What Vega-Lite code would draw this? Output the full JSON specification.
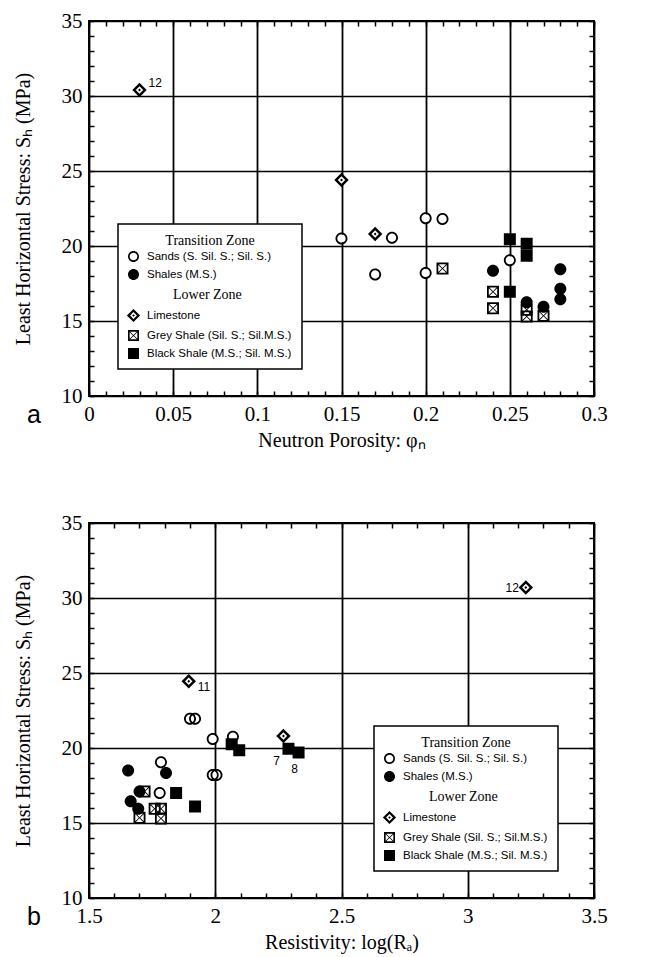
{
  "$schema": "https://vega.github.io/schema/vega-lite/v6.json",
  "padding": {"left": 12, "top": 9, "right": 10, "bottom": 5},
  "background": "white",
  "spacing": 60,
  "config": {"view": {"stroke": "black", "strokeWidth": 2}, "font": "Liberation Serif"},
  "datasets": {
    "porosity": [
      {"phi": 0.03, "Sh": 30.4, "type": "Limestone", "label": "12"},
      {"phi": 0.15, "Sh": 24.4, "type": "Limestone", "label": ""},
      {"phi": 0.17, "Sh": 20.8, "type": "Limestone", "label": ""},
      {"phi": 0.15, "Sh": 20.5, "type": "Sands (S. Sil. S.; Sil. S.)", "label": ""},
      {"phi": 0.17, "Sh": 18.1, "type": "Sands (S. Sil. S.; Sil. S.)", "label": ""},
      {"phi": 0.18, "Sh": 20.55, "type": "Sands (S. Sil. S.; Sil. S.)", "label": ""},
      {"phi": 0.2, "Sh": 21.85, "type": "Sands (S. Sil. S.; Sil. S.)", "label": ""},
      {"phi": 0.2, "Sh": 18.2, "type": "Sands (S. Sil. S.; Sil. S.)", "label": ""},
      {"phi": 0.21, "Sh": 21.8, "type": "Sands (S. Sil. S.; Sil. S.)", "label": ""},
      {"phi": 0.25, "Sh": 19.05, "type": "Sands (S. Sil. S.; Sil. S.)", "label": ""},
      {"phi": 0.24, "Sh": 18.35, "type": "Shales (M.S.)", "label": ""},
      {"phi": 0.26, "Sh": 16.25, "type": "Shales (M.S.)", "label": ""},
      {"phi": 0.27, "Sh": 15.95, "type": "Shales (M.S.)", "label": ""},
      {"phi": 0.28, "Sh": 18.45, "type": "Shales (M.S.)", "label": ""},
      {"phi": 0.28, "Sh": 17.15, "type": "Shales (M.S.)", "label": ""},
      {"phi": 0.28, "Sh": 16.45, "type": "Shales (M.S.)", "label": ""},
      {"phi": 0.21, "Sh": 18.5, "type": "Grey Shale (Sil. S.; Sil.M.S.)", "label": ""},
      {"phi": 0.24, "Sh": 16.95, "type": "Grey Shale (Sil. S.; Sil.M.S.)", "label": ""},
      {"phi": 0.24, "Sh": 15.85, "type": "Grey Shale (Sil. S.; Sil.M.S.)", "label": ""},
      {"phi": 0.26, "Sh": 15.75, "type": "Grey Shale (Sil. S.; Sil.M.S.)", "label": ""},
      {"phi": 0.26, "Sh": 15.3, "type": "Grey Shale (Sil. S.; Sil.M.S.)", "label": ""},
      {"phi": 0.27, "Sh": 15.35, "type": "Grey Shale (Sil. S.; Sil.M.S.)", "label": ""},
      {"phi": 0.25, "Sh": 20.45, "type": "Black Shale (M.S.; Sil. M.S.)", "label": ""},
      {"phi": 0.26, "Sh": 20.15, "type": "Black Shale (M.S.; Sil. M.S.)", "label": ""},
      {"phi": 0.26, "Sh": 19.35, "type": "Black Shale (M.S.; Sil. M.S.)", "label": ""},
      {"phi": 0.25, "Sh": 16.95, "type": "Black Shale (M.S.; Sil. M.S.)", "label": ""}
    ],
    "resistivity": [
      {"logR": 1.895, "Sh": 24.45, "type": "Limestone", "label": "11"},
      {"logR": 2.27, "Sh": 20.8, "type": "Limestone", "label": ""},
      {"logR": 3.23, "Sh": 30.7, "type": "Limestone", "label": "12"},
      {"logR": 1.785, "Sh": 19.05, "type": "Sands (S. Sil. S.; Sil. S.)", "label": ""},
      {"logR": 1.9, "Sh": 21.95, "type": "Sands (S. Sil. S.; Sil. S.)", "label": ""},
      {"logR": 1.92, "Sh": 21.95, "type": "Sands (S. Sil. S.; Sil. S.)", "label": ""},
      {"logR": 1.99, "Sh": 20.6, "type": "Sands (S. Sil. S.; Sil. S.)", "label": ""},
      {"logR": 2.07, "Sh": 20.75, "type": "Sands (S. Sil. S.; Sil. S.)", "label": ""},
      {"logR": 1.99, "Sh": 18.2, "type": "Sands (S. Sil. S.; Sil. S.)", "label": ""},
      {"logR": 2.005, "Sh": 18.2, "type": "Sands (S. Sil. S.; Sil. S.)", "label": ""},
      {"logR": 1.78, "Sh": 17.0, "type": "Sands (S. Sil. S.; Sil. S.)", "label": ""},
      {"logR": 1.655, "Sh": 18.5, "type": "Shales (M.S.)", "label": ""},
      {"logR": 1.805, "Sh": 18.33, "type": "Shales (M.S.)", "label": ""},
      {"logR": 1.7, "Sh": 17.1, "type": "Shales (M.S.)", "label": ""},
      {"logR": 1.665, "Sh": 16.45, "type": "Shales (M.S.)", "label": ""},
      {"logR": 1.695, "Sh": 15.95, "type": "Shales (M.S.)", "label": ""},
      {"logR": 1.72, "Sh": 17.1, "type": "Grey Shale (Sil. S.; Sil.M.S.)", "label": ""},
      {"logR": 1.76, "Sh": 15.95, "type": "Grey Shale (Sil. S.; Sil.M.S.)", "label": ""},
      {"logR": 1.785, "Sh": 15.95, "type": "Grey Shale (Sil. S.; Sil.M.S.)", "label": ""},
      {"logR": 1.7, "Sh": 15.35, "type": "Grey Shale (Sil. S.; Sil.M.S.)", "label": ""},
      {"logR": 1.785, "Sh": 15.3, "type": "Grey Shale (Sil. S.; Sil.M.S.)", "label": ""},
      {"logR": 2.065, "Sh": 20.25, "type": "Black Shale (M.S.; Sil. M.S.)", "label": ""},
      {"logR": 2.095, "Sh": 19.85, "type": "Black Shale (M.S.; Sil. M.S.)", "label": ""},
      {"logR": 2.29, "Sh": 19.95, "type": "Black Shale (M.S.; Sil. M.S.)", "label": "7"},
      {"logR": 2.33, "Sh": 19.7, "type": "Black Shale (M.S.; Sil. M.S.)", "label": "8"},
      {"logR": 1.845, "Sh": 17.0, "type": "Black Shale (M.S.; Sil. M.S.)", "label": ""},
      {"logR": 1.92, "Sh": 16.1, "type": "Black Shale (M.S.; Sil. M.S.)", "label": ""}
    ]
  },
  "resolve": {"scale": {"x": "independent", "y": "independent", "shape": "independent"}, "legend": {"shape": "independent"}},
  "vconcat": [
    {
      "width": 505, "height": 375,
      "data": {"name": "porosity"},
      "title": {"text": "a", "orient": "bottom", "anchor": "start", "frame": "group", "dx": -62, "offset": -47, "font": "Liberation Sans", "fontSize": 25, "fontWeight": "normal", "color": "black"},
      "resolve": {"axis": {"x": "independent", "y": "independent"}},
      "layer": [
        {
          "mark": {"type": "point", "opacity": 0},
          "encoding": {
            "x": {"field": "phi", "type": "quantitative", "scale": {"domain": [0, 0.3], "nice": false, "zero": false},
              "axis": {"orient": "bottom", "values": [0,0.01,0.02,0.03,0.04,0.05,0.06,0.07,0.08,0.09,0.1,0.11,0.12,0.13,0.14,0.15,0.16,0.17,0.18,0.19,0.2,0.21,0.22,0.23,0.24,0.25,0.26,0.27,0.28,0.29,0.3],
                "format": "~g", "labelExpr": "round(datum.value*100) % 5 === 0 ? datum.label : ''", "labelOverlap": false, "labelFlush": false,
                "grid": true, "gridColor": "black", "gridWidth": 1.8, "gridOpacity": {"condition": {"test": "round(datum.value*100) % 5 === 0", "value": 1}, "value": 0},
                "domain": false, "tickSize": -5, "tickColor": "black", "tickWidth": 1.5,
                "labelFont": "Liberation Serif", "labelFontSize": 21, "labelColor": "black", "labelPadding": 12,
                "title": "Neutron Porosity: φₙ", "titleFont": "Liberation Serif", "titleFontSize": 20, "titleFontWeight": "normal", "titleColor": "black", "titlePadding": 6}},
            "y": {"field": "Sh", "type": "quantitative", "scale": {"domain": [10, 35], "nice": false, "zero": false},
              "axis": {"orient": "left", "values": [10,11,12,13,14,15,16,17,18,19,20,21,22,23,24,25,26,27,28,29,30,31,32,33,34,35],
                "labelExpr": "datum.value % 5 === 0 ? datum.label : ''", "labelOverlap": false, "labelFlush": false,
                "grid": true, "gridColor": "black", "gridWidth": 1.6, "gridOpacity": {"condition": {"test": "datum.value % 5 === 0", "value": 1}, "value": 0},
                "domain": false, "tickSize": -5, "tickColor": "black", "tickWidth": 1.5,
                "labelFont": "Liberation Serif", "labelFontSize": 21, "labelColor": "black", "labelPadding": 12,
                "title": "Least Horizontal Stress: Sₕ (MPa)", "titleFont": "Liberation Serif", "titleFontSize": 20, "titleFontWeight": "normal", "titleColor": "black", "titlePadding": 28}}
          }
        },
        {
          "mark": {"type": "point", "opacity": 0},
          "encoding": {
            "x": {"field": "phi", "type": "quantitative", "scale": {"domain": [0, 0.3], "nice": false, "zero": false},
              "axis": {"orient": "top", "values": [0,0.01,0.02,0.03,0.04,0.05,0.06,0.07,0.08,0.09,0.1,0.11,0.12,0.13,0.14,0.15,0.16,0.17,0.18,0.19,0.2,0.21,0.22,0.23,0.24,0.25,0.26,0.27,0.28,0.29,0.3],
                "labels": false, "grid": false, "domain": false, "tickSize": -5, "tickColor": "black", "tickWidth": 1.5, "title": null}},
            "y": {"field": "Sh", "type": "quantitative", "scale": {"domain": [10, 35], "nice": false, "zero": false},
              "axis": {"orient": "right", "values": [10,11,12,13,14,15,16,17,18,19,20,21,22,23,24,25,26,27,28,29,30,31,32,33,34,35],
                "labels": false, "grid": false, "domain": false, "tickSize": -5, "tickColor": "black", "tickWidth": 1.5, "title": null}}
          }
        },
        {
          "transform": [{"filter": "datum.type === 'Limestone' || datum.type === 'Sands (S. Sil. S.; Sil. S.)'"}],
          "mark": {"type": "point", "shape": "circle", "filled": true, "color": "white", "opacity": 1, "size": 65, "strokeWidth": 0},
          "encoding": {
            "x": {"field": "phi", "type": "quantitative", "axis": null},
            "y": {"field": "Sh", "type": "quantitative", "axis": null}
          }
        },
        {
          "mark": {"type": "point", "filled": true, "color": "black", "opacity": 1, "size": 144, "strokeWidth": 0},
          "encoding": {
            "x": {"field": "phi", "type": "quantitative", "axis": null},
            "y": {"field": "Sh", "type": "quantitative", "axis": null},
            "shape": {"field": "type", "type": "nominal",
              "scale": {"domain": ["Sands (S. Sil. S.; Sil. S.)", "Shales (M.S.)", "Lower Zone", "Limestone", "Grey Shale (Sil. S.; Sil.M.S.)", "Black Shale (M.S.; Sil. M.S.)"],
                "range": [
                  "M1,0A1,1,0,1,1,-1,0A1,1,0,1,1,1,0Z M0.7,0A0.7,0.7,0,1,0,-0.7,0A0.7,0.7,0,1,0,0.7,0Z",
                  "M1,0A1,1,0,1,1,-1,0A1,1,0,1,1,1,0Z",
                  "M0,0L0,0Z",
                  "M0,-1.2L1.2,0L0,1.2L-1.2,0Z M0,-0.62L-0.62,0L0,0.62L0.62,0Z M0,-0.24L0.24,0L0,0.24L-0.24,0Z",
                  "M-1,-1H1V1H-1Z M-0.6,-0.7L0,-0.1L0.6,-0.7Z M0.7,-0.6L0.1,0L0.7,0.6Z M0.6,0.7L0,0.1L-0.6,0.7Z M-0.7,0.6L-0.1,0L-0.7,-0.6Z",
                  "M-1,-1H1V1H-1Z"
                ]},
              "legend": {"title": "Transition Zone", "orient": "none", "legendX": 29, "legendY": 203, "padding": 10,
                "fillColor": "white", "strokeColor": "black",
                "titleAnchor": "middle", "titleFont": "Liberation Serif", "titleFontSize": 14, "titleFontWeight": "normal", "titleColor": "black", "titlePadding": 3,
                "labelFont": "Liberation Sans", "labelFontSize": 11.5, "labelColor": "black", "labelOffset": 8, "labelLimit": 300,
                "symbolSize": 121, "symbolFillColor": "black", "symbolStrokeWidth": 0, "symbolOpacity": 1, "rowPadding": 6,
                "encoding": {
                  "labels": {
                    "dx": {"condition": {"test": "datum.value === 'Lower Zone'", "value": 26}, "value": 0},
                    "dy": {"condition": {"test": "datum.value === 'Lower Zone'", "value": 3}, "value": 0},
                    "font": {"condition": {"test": "datum.value === 'Lower Zone'", "value": "Liberation Serif"}, "value": "Liberation Sans"},
                    "fontSize": {"condition": {"test": "datum.value === 'Lower Zone'", "value": 14}, "value": 11.5}
                  },
                  "legend": {"strokeWidth": {"value": 1.5}}
                }}
            }
          }
        },
        {
          "transform": [{"filter": "datum.label === '12'"}],
          "mark": {"type": "text", "align": "left", "dx": 9, "dy": -7, "font": "Liberation Sans", "fontSize": 12, "color": "black"},
          "encoding": {
            "x": {"field": "phi", "type": "quantitative", "axis": null},
            "y": {"field": "Sh", "type": "quantitative", "axis": null},
            "text": {"field": "label"}
          }
        }
      ]
    },
    {
      "width": 505, "height": 375,
      "data": {"name": "resistivity"},
      "title": {"text": "b", "orient": "bottom", "anchor": "start", "frame": "group", "dx": -62, "offset": -47, "font": "Liberation Sans", "fontSize": 25, "fontWeight": "normal", "color": "black"},
      "resolve": {"axis": {"x": "independent", "y": "independent"}},
      "layer": [
        {
          "mark": {"type": "point", "opacity": 0},
          "encoding": {
            "x": {"field": "logR", "type": "quantitative", "scale": {"domain": [1.5, 3.5], "nice": false, "zero": false},
              "axis": {"orient": "bottom", "values": [1.5,1.6,1.7,1.8,1.9,2,2.1,2.2,2.3,2.4,2.5,2.6,2.7,2.8,2.9,3,3.1,3.2,3.3,3.4,3.5],
                "format": "~g", "labelExpr": "round(datum.value*10) % 5 === 0 ? datum.label : ''", "labelOverlap": false, "labelFlush": false,
                "grid": true, "gridColor": "black", "gridWidth": 1.8, "gridOpacity": {"condition": {"test": "round(datum.value*10) % 5 === 0", "value": 1}, "value": 0},
                "domain": false, "tickSize": -5, "tickColor": "black", "tickWidth": 1.5,
                "labelFont": "Liberation Serif", "labelFontSize": 21, "labelColor": "black", "labelPadding": 12,
                "title": "Resistivity: log(Rₐ)", "titleFont": "Liberation Serif", "titleFontSize": 20, "titleFontWeight": "normal", "titleColor": "black", "titlePadding": 6}},
            "y": {"field": "Sh", "type": "quantitative", "scale": {"domain": [10, 35], "nice": false, "zero": false},
              "axis": {"orient": "left", "values": [10,11,12,13,14,15,16,17,18,19,20,21,22,23,24,25,26,27,28,29,30,31,32,33,34,35],
                "labelExpr": "datum.value % 5 === 0 ? datum.label : ''", "labelOverlap": false, "labelFlush": false,
                "grid": true, "gridColor": "black", "gridWidth": 1.6, "gridOpacity": {"condition": {"test": "datum.value % 5 === 0", "value": 1}, "value": 0},
                "domain": false, "tickSize": -5, "tickColor": "black", "tickWidth": 1.5,
                "labelFont": "Liberation Serif", "labelFontSize": 21, "labelColor": "black", "labelPadding": 12,
                "title": "Least Horizontal Stress: Sₕ (MPa)", "titleFont": "Liberation Serif", "titleFontSize": 20, "titleFontWeight": "normal", "titleColor": "black", "titlePadding": 28}}
          }
        },
        {
          "mark": {"type": "point", "opacity": 0},
          "encoding": {
            "x": {"field": "logR", "type": "quantitative", "scale": {"domain": [1.5, 3.5], "nice": false, "zero": false},
              "axis": {"orient": "top", "values": [1.5,1.6,1.7,1.8,1.9,2,2.1,2.2,2.3,2.4,2.5,2.6,2.7,2.8,2.9,3,3.1,3.2,3.3,3.4,3.5],
                "labels": false, "grid": false, "domain": false, "tickSize": -5, "tickColor": "black", "tickWidth": 1.5, "title": null}},
            "y": {"field": "Sh", "type": "quantitative", "scale": {"domain": [10, 35], "nice": false, "zero": false},
              "axis": {"orient": "right", "values": [10,11,12,13,14,15,16,17,18,19,20,21,22,23,24,25,26,27,28,29,30,31,32,33,34,35],
                "labels": false, "grid": false, "domain": false, "tickSize": -5, "tickColor": "black", "tickWidth": 1.5, "title": null}}
          }
        },
        {
          "transform": [{"filter": "datum.type === 'Limestone' || datum.type === 'Sands (S. Sil. S.; Sil. S.)'"}],
          "mark": {"type": "point", "shape": "circle", "filled": true, "color": "white", "opacity": 1, "size": 65, "strokeWidth": 0},
          "encoding": {
            "x": {"field": "logR", "type": "quantitative", "axis": null},
            "y": {"field": "Sh", "type": "quantitative", "axis": null}
          }
        },
        {
          "mark": {"type": "point", "filled": true, "color": "black", "opacity": 1, "size": 144, "strokeWidth": 0},
          "encoding": {
            "x": {"field": "logR", "type": "quantitative", "axis": null},
            "y": {"field": "Sh", "type": "quantitative", "axis": null},
            "shape": {"field": "type", "type": "nominal",
              "scale": {"domain": ["Sands (S. Sil. S.; Sil. S.)", "Shales (M.S.)", "Lower Zone", "Limestone", "Grey Shale (Sil. S.; Sil.M.S.)", "Black Shale (M.S.; Sil. M.S.)"],
                "range": [
                  "M1,0A1,1,0,1,1,-1,0A1,1,0,1,1,1,0Z M0.7,0A0.7,0.7,0,1,0,-0.7,0A0.7,0.7,0,1,0,0.7,0Z",
                  "M1,0A1,1,0,1,1,-1,0A1,1,0,1,1,1,0Z",
                  "M0,0L0,0Z",
                  "M0,-1.2L1.2,0L0,1.2L-1.2,0Z M0,-0.62L-0.62,0L0,0.62L0.62,0Z M0,-0.24L0.24,0L0,0.24L-0.24,0Z",
                  "M-1,-1H1V1H-1Z M-0.6,-0.7L0,-0.1L0.6,-0.7Z M0.7,-0.6L0.1,0L0.7,0.6Z M0.6,0.7L0,0.1L-0.6,0.7Z M-0.7,0.6L-0.1,0L-0.7,-0.6Z",
                  "M-1,-1H1V1H-1Z"
                ]},
              "legend": {"title": "Transition Zone", "orient": "none", "legendX": 285, "legendY": 203, "padding": 10,
                "fillColor": "white", "strokeColor": "black",
                "titleAnchor": "middle", "titleFont": "Liberation Serif", "titleFontSize": 14, "titleFontWeight": "normal", "titleColor": "black", "titlePadding": 3,
                "labelFont": "Liberation Sans", "labelFontSize": 11.5, "labelColor": "black", "labelOffset": 8, "labelLimit": 300,
                "symbolSize": 121, "symbolFillColor": "black", "symbolStrokeWidth": 0, "symbolOpacity": 1, "rowPadding": 6,
                "encoding": {
                  "labels": {
                    "dx": {"condition": {"test": "datum.value === 'Lower Zone'", "value": 26}, "value": 0},
                    "dy": {"condition": {"test": "datum.value === 'Lower Zone'", "value": 3}, "value": 0},
                    "font": {"condition": {"test": "datum.value === 'Lower Zone'", "value": "Liberation Serif"}, "value": "Liberation Sans"},
                    "fontSize": {"condition": {"test": "datum.value === 'Lower Zone'", "value": 14}, "value": 11.5}
                  },
                  "legend": {"strokeWidth": {"value": 1.5}}
                }}
            }
          }
        },
        {
          "transform": [{"filter": "datum.label === '12'"}],
          "mark": {"type": "text", "align": "right", "dx": -7, "dy": 0, "font": "Liberation Sans", "fontSize": 12, "color": "black"},
          "encoding": {
            "x": {"field": "logR", "type": "quantitative", "axis": null},
            "y": {"field": "Sh", "type": "quantitative", "axis": null},
            "text": {"field": "label"}
          }
        },
        {
          "transform": [{"filter": "datum.label === '11'"}],
          "mark": {"type": "text", "align": "left", "dx": 9, "dy": 6, "font": "Liberation Sans", "fontSize": 12, "color": "black"},
          "encoding": {
            "x": {"field": "logR", "type": "quantitative", "axis": null},
            "y": {"field": "Sh", "type": "quantitative", "axis": null},
            "text": {"field": "label"}
          }
        },
        {
          "transform": [{"filter": "datum.label === '7'"}],
          "mark": {"type": "text", "align": "center", "dx": -12, "dy": 12, "font": "Liberation Sans", "fontSize": 12, "color": "black"},
          "encoding": {
            "x": {"field": "logR", "type": "quantitative", "axis": null},
            "y": {"field": "Sh", "type": "quantitative", "axis": null},
            "text": {"field": "label"}
          }
        },
        {
          "transform": [{"filter": "datum.label === '8'"}],
          "mark": {"type": "text", "align": "center", "dx": -4, "dy": 16, "font": "Liberation Sans", "fontSize": 12, "color": "black"},
          "encoding": {
            "x": {"field": "logR", "type": "quantitative", "axis": null},
            "y": {"field": "Sh", "type": "quantitative", "axis": null},
            "text": {"field": "label"}
          }
        }
      ]
    }
  ]
}
